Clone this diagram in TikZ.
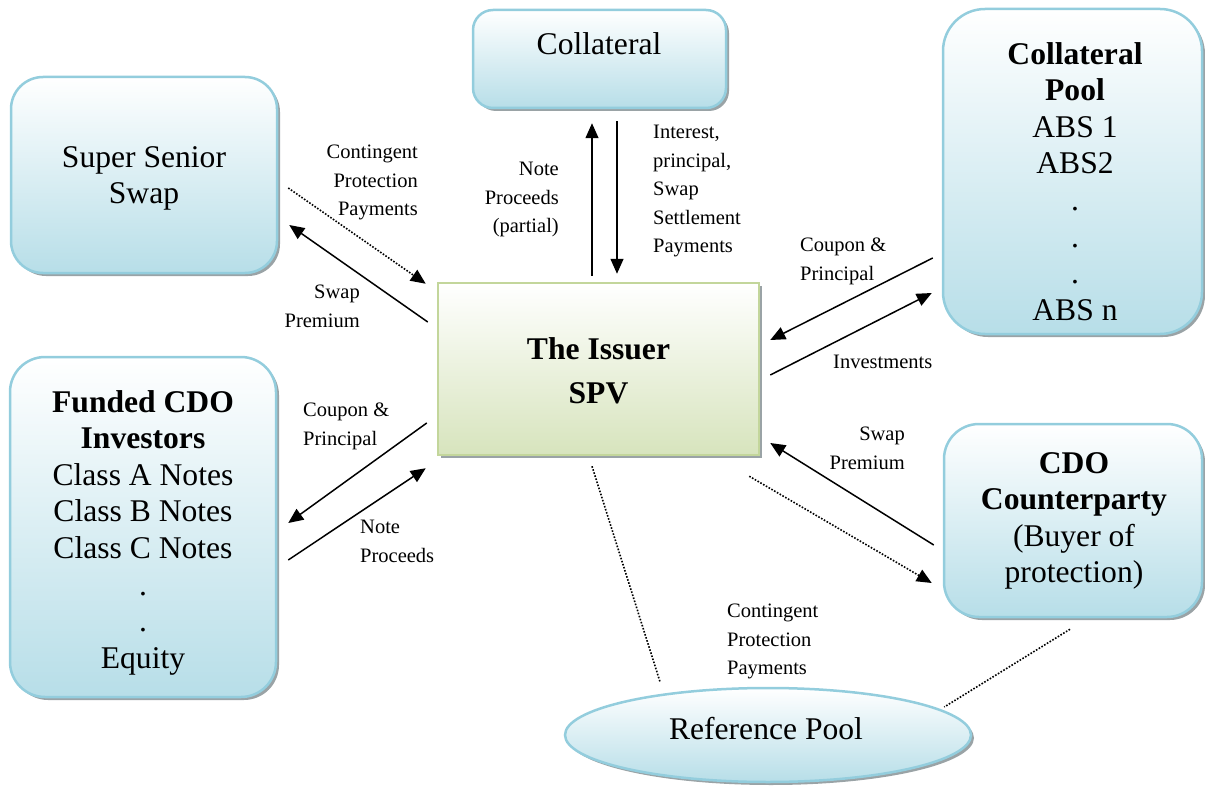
\documentclass[tikz,border=0pt]{standalone}
\usepackage{fontspec}
\setmainfont{Liberation Serif}
\usetikzlibrary{shadows,arrows.meta,calc,shapes.geometric}

\definecolor{aquaedge}{HTML}{93CDDD}
\definecolor{aquafill}{HTML}{B7DEE8}
\definecolor{oliveedge}{HTML}{C3D69B}
\definecolor{olivefill}{HTML}{D7E4BD}
\definecolor{shadowgrey}{HTML}{9AA3A6}

\begin{document}
\begin{tikzpicture}[x=1pt,y=-1pt,
  boxshadow/.style={drop shadow={shadow xshift=3pt,shadow yshift=-3pt,fill=shadowgrey,opacity=1}},
  partybox/.style={rectangle,rounded corners=#1,draw=aquaedge,line width=2.5pt,
    top color=white,bottom color=aquafill,boxshadow,inner sep=0pt},
  issuerbox/.style={rectangle,draw=oliveedge,line width=2.5pt,
    top color=white,bottom color=olivefill,boxshadow,inner sep=0pt},
  poolellipse/.style={ellipse,draw=aquaedge,line width=2.5pt,
    top color=white,bottom color=aquafill,boxshadow,inner sep=0pt},
  boxtext/.style={font=\fontsize{31.6}{36.6}\selectfont,align=center,inner sep=0pt,anchor=north},
  flowlabel/.style={font=\fontsize{20.5}{28.5}\selectfont,inner sep=0pt},
  flow/.style={line width=1.5pt,-{Triangle[length=15pt,width=13pt]}},
  flowdot/.style={line width=1.6pt,dash pattern=on 1.6pt off 1.6pt,-{Triangle[length=15pt,width=13pt]}},
  link/.style={line width=1.6pt,dash pattern=on 1.6pt off 1.6pt}
]
\useasboundingbox (0,0) rectangle (1205,789);

% boxes
\node[partybox=32pt,minimum width=266pt,minimum height=196pt] (ss) at (144,175) {};
\node[partybox=20pt,minimum width=253pt,minimum height=98pt] (coll) at (599.5,59) {};
\node[partybox=42pt,minimum width=259pt,minimum height=325pt] (pool) at (1072.5,171.5) {};
\node[partybox=35pt,minimum width=266pt,minimum height=340pt] (funded) at (143,527) {};
\node[partybox=35pt,minimum width=258pt,minimum height=193pt] (cdo) at (1073,520.5) {};
\node[issuerbox,minimum width=321pt,minimum height=172pt] (spv) at (598.5,369) {};
\node[poolellipse,minimum width=406pt,minimum height=94pt] (ref) at (768,735) {};

% box texts
\node[boxtext] (sstext) at (144,146) {Super Senior\\Swap};
\node[boxtext,anchor=base] (colltext) at (599,55) {Collateral};
\node[boxtext] (pooltext) at (1075,42) {\textbf{Collateral}\\\textbf{Pool}\\ABS 1\\ABS2\\.\\.\\.\\ABS n};
\node[boxtext] (fundedtext) at (143,390) {\textbf{Funded CDO}\\\textbf{Investors}\\Class A Notes\\Class B Notes\\Class C Notes\\.\\.\\Equity};
\node[boxtext] (cdotext) at (1074,452) {\textbf{CDO}\\\textbf{Counterparty}\\(Buyer of\\protection)};
\node[boxtext,font=\fontsize{31.6}{44}\selectfont\bfseries] (spvtext) at (598.5,337) {The Issuer\\SPV};
\node[boxtext,anchor=base] (reftext) at (766,739) {Reference Pool};

% flows between the parties
\draw[flowdot] ($(ss.east)+(10,13)$) -- ($(spv.north west)+(-11,2)$);
\draw[flow] ($(spv.west)+(-9,-47)$) -- ($(ss.east)+(11,50)$);
\draw[flow] ($(spv.north)+(-6.5,-6)$) -- ($(coll.south)+(-7.5,14)$);
\draw[flow] ($(coll.south)+(17.5,12)$) -- ($(spv.north)+(18.5,-8)$);
\draw[flow] ($(pool.west)+(-9,86.5)$) -- ($(spv.east)+(10,-29)$);
\draw[flow] ($(spv.east)+(10,6)$) -- ($(pool.west)+(-10,121.5)$);
\draw[flow] ($(spv.west)+(-10,54)$) -- ($(funded.east)+(11,-4)$);
\draw[flow] ($(funded.east)+(11,33)$) -- ($(spv.south west)+(-11,12)$);
\draw[flow] ($(cdo.west)+(-9,24.5)$) -- ($(spv.east)+(10,74)$);
\draw[flowdot] ($(spv.south east)+(-11,20)$) -- ($(cdo.west)+(-11,62.5)$);
\draw[link] ($(spv.south)+(-6.5,10)$) -- ($(ref.north)+(-108,-5)$);
\draw[link] ($(cdo.south)+(-3,11)$) -- ($(ref.east)+(-28,-28)$);

% flow labels
\node[flowlabel,align=right,anchor=north east] (l1) at (418,145) {Contingent\\Protection\\Payments};
\node[flowlabel,align=right,anchor=north east] (l2) at (360,285) {Swap\\Premium};
\node[flowlabel,align=right,anchor=north east] (l3) at (559,162) {Note\\Proceeds\\(partial)};
\node[flowlabel,align=left,anchor=north west] (l4) at (653,125) {Interest,\\principal,\\Swap\\Settlement\\Payments};
\node[flowlabel,align=left,anchor=north west] (l5) at (800,238) {Coupon \&\\Principal};
\node[flowlabel,anchor=north west] (l6) at (833,355) {Investments};
\node[flowlabel,align=right,anchor=north east] (l7) at (905,427) {Swap\\Premium};
\node[flowlabel,align=left,anchor=north west] (l8) at (303,403) {Coupon \&\\Principal};
\node[flowlabel,align=left,anchor=north west] (l9) at (360,520) {Note\\Proceeds};
\node[flowlabel,align=left,anchor=north west] (l10) at (727,604) {Contingent\\Protection\\Payments};
\end{tikzpicture}
\end{document}
